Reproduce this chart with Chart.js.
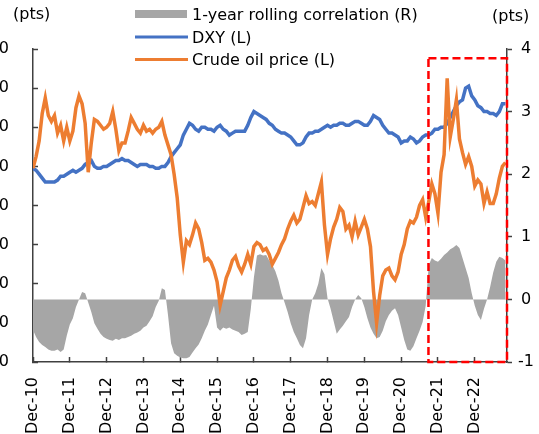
<!DOCTYPE html>
<html>
<head>
<meta charset="utf-8">
<script src="https://cdn.jsdelivr.net/npm/chart.js@4"></script>
<style>
  body { margin: 0; background: #fff; }
  canvas { display: block; }
</style>
</head>
<body>
<canvas id="chart" width="539" height="434"></canvas>
<script>
// monthly values, Dec-10 first, then Jan..Dec per year, 2023 runs to Oct
const oil = [
  99,
  105, 113, 127, 135, 126, 123, 126, 117, 121, 113, 120, 113,
  118, 130, 136, 132, 122, 97, 112, 124, 123, 121, 119, 120,
  122, 128, 119, 108, 112, 112, 118, 125, 122, 119, 117, 121,
  118, 119, 117, 119, 120, 123, 116, 111, 106, 96, 84, 65,
  51, 62, 60, 65, 71, 68, 61, 52, 53, 51, 47, 41,
  29, 36, 43, 47, 52, 54, 49, 46, 50, 55, 50, 59,
  61, 60, 57, 58, 55, 50, 53, 56, 60, 63, 68, 72,
  75, 71, 73, 79, 85, 81, 82, 80, 86, 92, 70, 55,
  63, 69, 73, 79, 77, 68, 70, 64, 72, 65, 69, 73,
  68, 59, 36, 20, 34, 44, 47, 48, 44, 42, 46, 55,
  60, 68, 72, 71, 74, 80, 83, 74, 82, 91, 86, 76,
  97, 106, 145, 115, 124, 134, 114, 107, 101, 105, 100, 90,
  93, 91, 81, 87, 81, 81, 86, 94, 100, 102
];

const dxy = [
  99,
  98, 96, 94, 92, 92, 92, 92, 93, 95, 95, 96, 97,
  98, 97, 98, 99, 101, 102, 103, 100, 99, 99, 100, 100,
  101, 102, 103, 103, 104, 103, 103, 102, 101, 100, 101, 101,
  101, 100, 100, 99, 99, 100, 100, 102, 105, 107, 109, 111,
  116, 119, 122, 121, 119, 118, 120, 120, 119, 119, 118, 120,
  121, 119, 118, 116, 117, 118, 118, 118, 118, 121, 125, 128,
  127, 126, 125, 124, 122, 121, 119, 118, 117, 117, 116, 115,
  113, 111, 111, 112, 115, 117, 117, 118, 118, 119, 120, 121,
  120, 121, 121, 122, 122, 121, 121, 122, 123, 123, 122, 121,
  121, 123, 126, 125, 124, 121, 119, 117, 117, 116, 115, 112,
  113, 113, 115, 114, 112, 113, 115, 116, 116, 117, 119, 119,
  120, 120, 122, 125, 128, 131, 133, 134, 140, 141, 136, 134,
  131, 130, 128, 128, 127, 127, 126, 128, 132, 132
];

const corr = [
  -0.49,
  -0.6, -0.68, -0.73, -0.76, -0.8, -0.82, -0.82, -0.8, -0.84, -0.8, -0.58, -0.4,
  -0.3, -0.12, 0.0, 0.12, 0.1, -0.05, -0.2, -0.38, -0.47, -0.55, -0.6, -0.63,
  -0.65, -0.66, -0.63, -0.65, -0.62, -0.62, -0.6, -0.58, -0.55, -0.53, -0.5, -0.45,
  -0.42, -0.35, -0.27, -0.12, -0.02, 0.18, 0.15, -0.25, -0.7, -0.86, -0.9, -0.93,
  -0.94, -0.94, -0.92, -0.85, -0.78, -0.72, -0.62, -0.5, -0.4, -0.25, -0.1, -0.45,
  -0.5, -0.45, -0.47, -0.45, -0.48, -0.5, -0.52, -0.57, -0.55, -0.52, -0.15, 0.35,
  0.7, 0.72, 0.7, 0.71, 0.62, 0.55, 0.45, 0.3, 0.1, -0.05, -0.2, -0.38,
  -0.52, -0.62, -0.73, -0.78, -0.62, -0.25, 0.0, 0.1, 0.25, 0.5, 0.4, 0.02,
  -0.15, -0.35, -0.55, -0.48, -0.42, -0.35, -0.28, -0.12, 0.0, 0.07, 0.02, -0.12,
  -0.3, -0.45, -0.55, -0.62, -0.6, -0.5, -0.35, -0.25, -0.18, -0.14, -0.25, -0.45,
  -0.65, -0.8, -0.82, -0.75, -0.62, -0.5, -0.36, -0.1, 0.55, 0.66, 0.62, 0.6,
  0.65, 0.71, 0.75, 0.8, 0.83, 0.87, 0.82, 0.66, 0.5, 0.34, 0.1, -0.1,
  -0.25, -0.33, -0.15, 0.0, 0.2, 0.43, 0.6, 0.68, 0.66, 0.62
];

const months = corr.map((_, i) => i);   // 0 = Dec-10
const yearLabels = ['Dec-10', 'Dec-11', 'Dec-12', 'Dec-13', 'Dec-14', 'Dec-15', 'Dec-16',
                    'Dec-17', 'Dec-18', 'Dec-19', 'Dec-20', 'Dec-21', 'Dec-22'];
const seriesNames = ['1-year rolling correlation (R)', 'DXY (L)', 'Crude oil price (L)'];

// highlighted window (months) and its top on the left scale
const boxFrom = 128.9, boxTo = 154.5, boxTop = 155.3;

const FONT = '"DejaVu Sans", Verdana, sans-serif';
const BLUE = '#4472c4', ORANGE = '#ed7d31', GREY = '#a6a6a6', AXIS = '#404040';

const extras = {
  id: 'extras',
  afterDatasetsDraw(chart) {
    const { ctx, scales: { x, y } } = chart;
    const l = x.getPixelForValue(boxFrom), r = x.getPixelForValue(boxTo);
    const t = y.getPixelForValue(boxTop), b = y.getPixelForValue(0);
    ctx.save();
    ctx.strokeStyle = '#ff0000';
    ctx.lineWidth = 2.5;
    ctx.setLineDash([8, 4]);
    ctx.strokeRect(l, t, r - l, b - t);
    ctx.restore();
  },
  afterDraw(chart) {
    const ctx = chart.ctx;
    ctx.save();
    ctx.font = '16px ' + FONT;
    ctx.fillStyle = '#000';
    ctx.textBaseline = 'alphabetic';
    ctx.fillText('(pts)', 13, 19);
    ctx.fillText('(pts)', 492, 21);

    // legend, stacked
    ctx.fillStyle = GREY;
    ctx.fillRect(135, 10, 52, 8);
    ctx.lineWidth = 3;
    ctx.strokeStyle = BLUE;
    ctx.beginPath(); ctx.moveTo(135, 37); ctx.lineTo(188, 37); ctx.stroke();
    ctx.strokeStyle = ORANGE;
    ctx.beginPath(); ctx.moveTo(135, 59.5); ctx.lineTo(188, 59.5); ctx.stroke();
    ctx.fillStyle = '#000';
    seriesNames.forEach((s, i) => ctx.fillText(s, 192, 20 + i * 22.5));
    ctx.restore();
  }
};

const axisBorder = { display: true, color: AXIS, width: 1.5 };

new Chart(document.getElementById('chart'), {
  type: 'line',
  data: {
    labels: months,
    datasets: [
      {
        label: seriesNames[0], data: corr, yAxisID: 'y1', order: 3,
        backgroundColor: GREY, borderWidth: 0, fill: 'origin', pointRadius: 0
      },
      {
        label: seriesNames[1], data: dxy, yAxisID: 'y', order: 2,
        borderColor: BLUE, borderWidth: 3.5, pointRadius: 0
      },
      {
        label: seriesNames[2], data: oil, yAxisID: 'y', order: 1,
        borderColor: ORANGE, borderWidth: 3.5, pointRadius: 0
      }
    ]
  },
  options: {
    responsive: false,
    animation: false,
    layout: { padding: { top: 49, left: 0, right: 0, bottom: 0 } },
    plugins: { legend: { display: false }, tooltip: { enabled: false } },
    elements: { line: { tension: 0 } },
    scales: {
      x: {
        type: 'linear', min: 0, max: 154.5,
        border: axisBorder,
        grid: { drawOnChartArea: false, tickLength: -5, color: AXIS, tickWidth: 1.5 },
        ticks: {
          stepSize: 12, includeBounds: false, autoSkip: false,
          minRotation: 90, maxRotation: 90, padding: 20,
          color: '#000', font: { family: FONT, size: 16 },
          callback: v => yearLabels[v / 12] || ''
        },
        afterFit: s => { s.height = 72; }
      },
      y: {
        position: 'left', min: 0, max: 160,
        border: axisBorder,
        grid: { drawOnChartArea: false, tickLength: -5, color: AXIS, tickWidth: 1.5 },
        ticks: { stepSize: 20, padding: 29, color: '#000', font: { family: FONT, size: 16 } },
        afterFit: s => { s.width = 33; }
      },
      y1: {
        position: 'right', min: -1, max: 4,
        border: axisBorder,
        grid: { drawOnChartArea: false, tickLength: 5, color: AXIS, tickWidth: 1.5 },
        ticks: { stepSize: 1, padding: 6, crossAlign: 'center', color: '#000', font: { family: FONT, size: 16 } },
        afterFit: s => { s.width = 32; }
      }
    }
  },
  plugins: [extras]
});
</script>
</body>
</html>
